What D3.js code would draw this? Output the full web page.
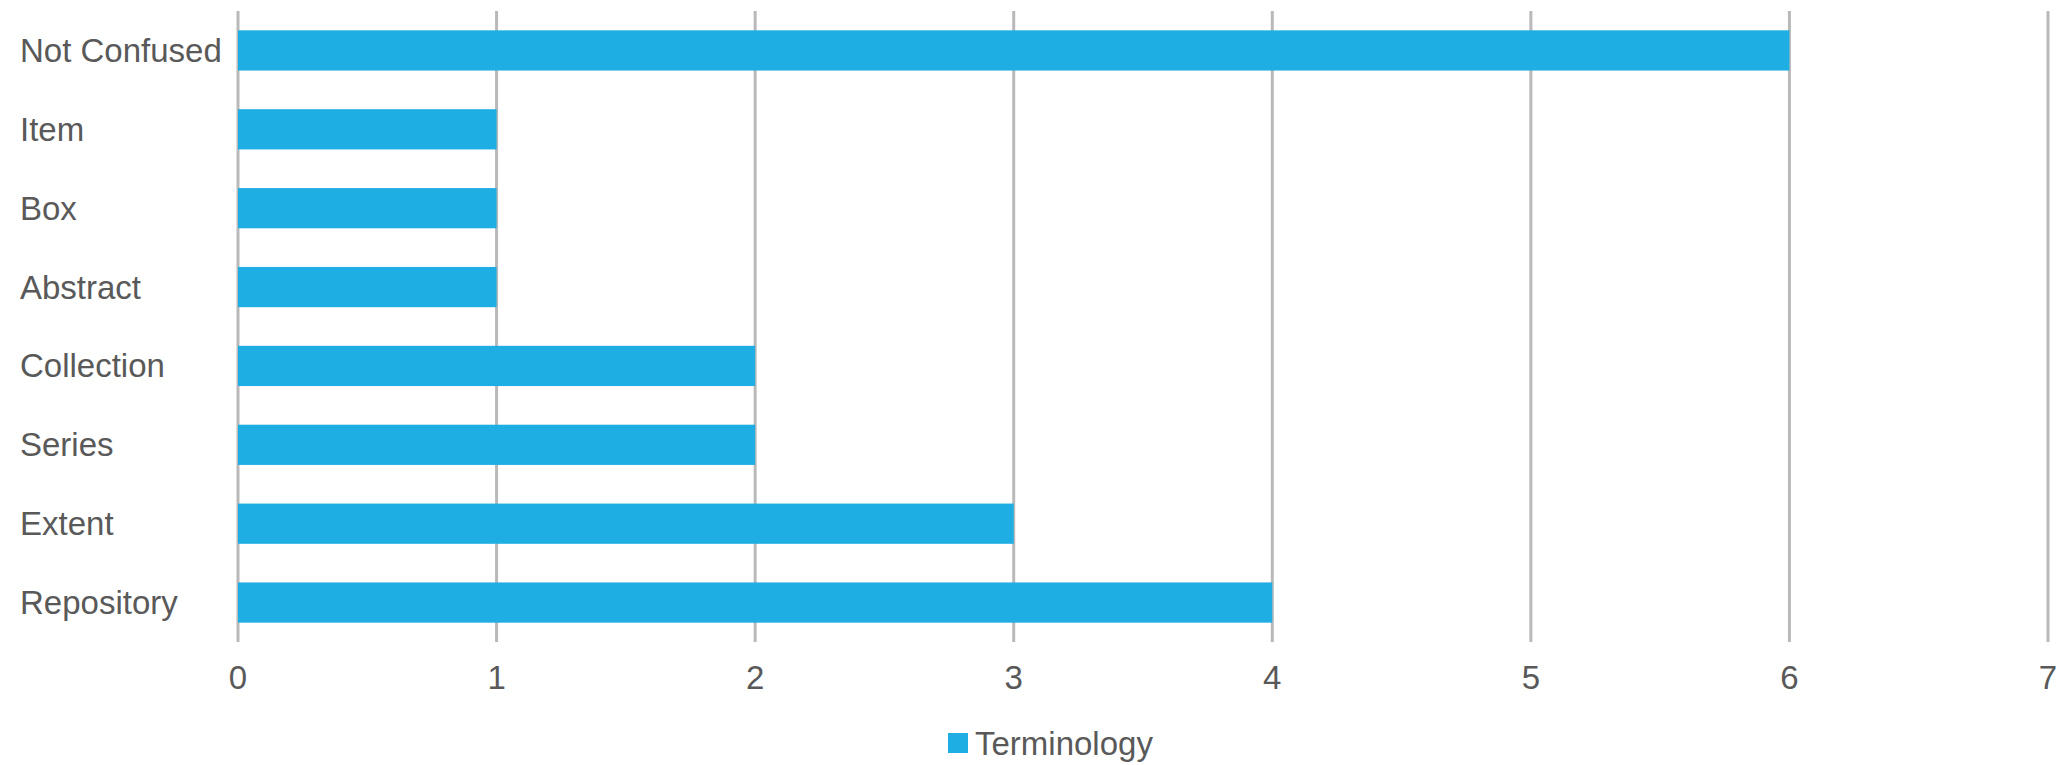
<!DOCTYPE html>
<html><head><meta charset="utf-8">
<script src="https://cdn.jsdelivr.net/npm/d3@7"></script>
<style>body{margin:0;background:#fff;}svg{display:block;}</style>
</head><body>
<script>
const categories = ["Not Confused","Item","Box","Abstract","Collection","Series","Extent","Repository"];
const values = [6,1,1,1,2,2,3,4];
const tickValues = [0,1,2,3,4,5,6,7];
const seriesName = "Terminology";

const W = 2067, H = 765;
const svg = d3.select("body").append("svg").attr("width", W).attr("height", H);
const font = "'Liberation Sans', Arial, sans-serif";
const textColor = "#595959";

const x = d3.scaleLinear().domain([0,7]).range([238, 2048]);
const y = d3.scaleBand().domain(categories).range([11, 642]).paddingInner(0.49).paddingOuter(0.245);

// gridlines
svg.append("g").selectAll("line").data(tickValues).join("line")
  .attr("x1", d => x(d)).attr("x2", d => x(d))
  .attr("y1", 11).attr("y2", 642)
  .attr("stroke", "#b9b9b9").attr("stroke-width", 3);

// bars
svg.append("g").selectAll("rect").data(categories).join("rect")
  .attr("x", x(0)).attr("y", d => y(d))
  .attr("width", (d,i) => x(values[i]) - x(0))
  .attr("height", y.bandwidth())
  .attr("fill", "#1eaee3");

// category labels
svg.append("g").selectAll("text").data(categories).join("text")
  .attr("x", 20).attr("y", d => y(d) + y.bandwidth()/2)
  .attr("dominant-baseline", "central")
  .attr("font-family", font).attr("font-size", 33).attr("fill", textColor)
  .text(d => d);

// x tick labels
svg.append("g").selectAll("text").data(tickValues).join("text")
  .attr("x", d => x(d)).attr("y", 677)
  .attr("text-anchor", "middle").attr("dominant-baseline", "central")
  .attr("font-family", font).attr("font-size", 33).attr("fill", textColor)
  .text(d => d);

// legend
const lg = svg.append("g");
lg.append("rect").attr("x", 948).attr("y", 733).attr("width", 20).attr("height", 20).attr("fill", "#1eaee3");
lg.append("text").attr("x", 975).attr("y", 743).attr("dominant-baseline", "central")
  .attr("font-family", font).attr("font-size", 33).attr("fill", textColor).text(seriesName);
</script>
</body></html>
